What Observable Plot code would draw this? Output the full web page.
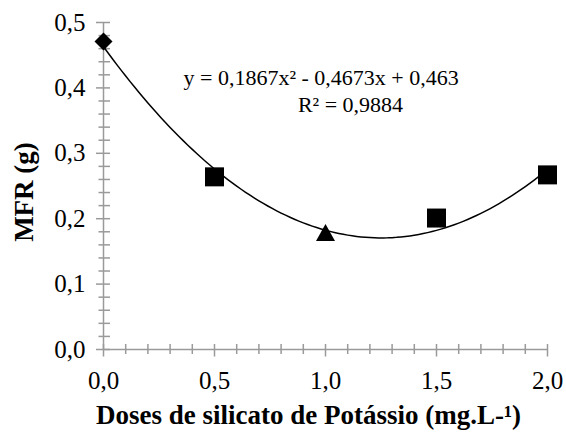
<!DOCTYPE html>
<html><head><meta charset="utf-8">
<script src="https://cdn.jsdelivr.net/npm/d3@7"></script>
<script src="https://cdn.jsdelivr.net/npm/@observablehq/plot@0.6"></script>
<style>body{margin:0;background:#fff} svg{display:block} svg text{font-family:"Liberation Serif","Times New Roman",serif !important}</style>
</head><body><div id="chart"></div>
<script>
// ---- data ----
const doses = [0, 0.5, 1.0, 1.5, 2.0];
const mfr = [0.471, 0.264, 0.179, 0.201, 0.267];
const markerShapes = ["diamond", "square", "triangle", "square", "square"];
const xTicks = [0, 0.5, 1.0, 1.5, 2.0];
const yTicks = [0, 0.1, 0.2, 0.3, 0.4, 0.5];
const trendCoef = [0.463, -0.4673, 0.1867]; // c0, c1, c2 of the fitted polynomial shown
const rSquared = 0.9884;
const xTitle = "Doses de silicato de Potássio (mg.L-¹)";
const yTitle = "MFR (g)";

// ---- helpers ----
const comma = v => String(v).replace(".", ",");
const tickFmt = v => v.toFixed(1).replace(".", ",");
const points = doses.map((x, i) => ({x, y: mfr[i], shape: markerShapes[i]}));
const trend = d3.range(0, 2.0001, 0.02).map(x => ({x, y: trendCoef[0] + trendCoef[1] * x + trendCoef[2] * x * x}));
const eqText = `y = ${comma(trendCoef[2])}x² ${trendCoef[1] < 0 ? "-" : "+"} ${comma(Math.abs(trendCoef[1]))}x + ${comma(trendCoef[0])}`;
const r2Text = `R² = ${comma(rSquared)}`;

const xMinor = d3.range(0, 2.0001, 0.1).map(v => +v.toFixed(2));
const yMinor = d3.range(0, 0.5001, 0.02).map(v => +v.toFixed(2));
const isMajorX = v => Math.abs(v * 2 - Math.round(v * 2)) < 1e-6;
const isMajorY = v => Math.abs(v * 10 - Math.round(v * 10)) < 1e-6;

const sym = (draw) => ({draw});
const vTickMinor = sym(c => { c.moveTo(0, -5.5); c.lineTo(0, 4.5); });
const vTickMajor = sym(c => { c.moveTo(0, -5.5); c.lineTo(0, 7); });
const hTickMinor = sym(c => { c.moveTo(-5, 0); c.lineTo(6.5, 0); });
const hTickMajor = sym(c => { c.moveTo(-7.5, 0); c.lineTo(6.5, 0); });
const shapes = {
  diamond: sym(c => { c.moveTo(0, -9); c.lineTo(9, 0); c.lineTo(0, 9); c.lineTo(-9, 0); c.closePath(); }),
  square: sym(c => { c.rect(-9.5, -9.5, 19, 19); }),
  triangle: sym(c => { c.moveTo(0, -8.5); c.lineTo(9.5, 8.5); c.lineTo(-9.5, 8.5); c.closePath(); })
};

const serif = "Liberation Serif";
const axisGray = "#9a9a9a";

const chart = Plot.plot({
  width: 566,
  height: 434,
  marginLeft: 103,
  marginRight: 19,
  marginTop: 22,
  marginBottom: 85,
  style: {fontFamily: serif, fontSize: "24px", color: "#000", background: "#fff"},
  x: {domain: [0, 2]},
  y: {domain: [0, 0.5]},
  marks: [
    Plot.ruleX([0], {stroke: axisGray, strokeWidth: 1.5}),
    Plot.ruleY([0], {stroke: axisGray, strokeWidth: 1.5}),
    Plot.dot(xMinor.filter(v => !isMajorX(v)), {x: d => d, y: () => 0, symbol: vTickMinor, stroke: axisGray, strokeWidth: 1.5, fill: "none"}),
    Plot.dot(xMinor.filter(isMajorX), {x: d => d, y: () => 0, symbol: vTickMajor, stroke: axisGray, strokeWidth: 1.5, fill: "none"}),
    Plot.dot(yMinor.filter(v => !isMajorY(v)), {x: () => 0, y: d => d, symbol: hTickMinor, stroke: axisGray, strokeWidth: 1.5, fill: "none"}),
    Plot.dot(yMinor.filter(isMajorY), {x: () => 0, y: d => d, symbol: hTickMajor, stroke: axisGray, strokeWidth: 1.5, fill: "none"}),
    Plot.axisX(xTicks, {tickSize: 0, tickPadding: 22, tickFormat: tickFmt, label: null, fontSize: 25, fontFamily: serif, fill: "#000"}),
    Plot.axisY(yTicks, {tickSize: 0, tickPadding: 18, tickFormat: tickFmt, label: null, fontSize: 25, fontFamily: serif, fill: "#000"}),
    Plot.line(trend, {x: "x", y: "y", stroke: "#000", strokeWidth: 1.5}),
    ...Object.keys(shapes).map(k => Plot.dot(points, {filter: d => d.shape === k, x: "x", y: "y", symbol: shapes[k], fill: "#000"})),
    Plot.text([eqText], {text: d => d, frameAnchor: "top-left", textAnchor: "start", lineAnchor: "bottom", dx: 80, dy: 62, fontSize: 22, fontFamily: serif, fill: "#000"}),
    Plot.text([r2Text], {text: d => d, frameAnchor: "top-left", textAnchor: "middle", lineAnchor: "bottom", dx: 247, dy: 89, fontSize: 22, fontFamily: serif, fill: "#000"}),
    Plot.text([xTitle], {text: d => d, frameAnchor: "bottom", textAnchor: "middle", lineAnchor: "bottom", dx: -17, dy: 74, fontSize: 27, fontWeight: "bold", fontFamily: serif, fill: "#000"}),
    Plot.text([yTitle], {text: d => d, frameAnchor: "left", textAnchor: "middle", lineAnchor: "bottom", rotate: -90, dx: -71, dy: 6, fontSize: 27, fontWeight: "bold", fontFamily: serif, fill: "#000"})
  ]
});
document.getElementById("chart").appendChild(chart);
</script>
</body></html>
